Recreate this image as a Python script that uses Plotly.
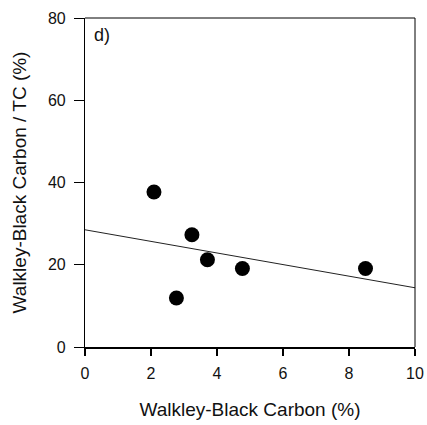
import plotly.graph_objects as go

# Data
wb_carbon = [2.09, 3.24, 3.71, 4.77, 8.50, 2.77]
wb_ratio = [37.7, 27.3, 21.2, 19.1, 19.1, 11.9]
trend_x = [0, 10]
trend_y = [28.5, 14.4]
x_ticks = [0, 2, 4, 6, 8, 10]
y_ticks = [0, 20, 40, 60, 80]

font_family = "Liberation Sans, Arial, sans-serif"

fig = go.Figure()
fig.add_trace(go.Scatter(x=trend_x, y=trend_y, mode="lines",
                         line=dict(color="#222222", width=1), hoverinfo="skip"))
fig.add_trace(go.Scatter(x=wb_carbon, y=wb_ratio, mode="markers",
                         marker=dict(color="black", size=15, line=dict(width=0))))

fig.update_layout(
    width=427, height=425,
    margin=dict(l=85, r=12, t=18, b=78, autoexpand=False),
    paper_bgcolor="white", plot_bgcolor="white",
    showlegend=False,
    font=dict(family=font_family, color="#111111"),
    xaxis=dict(range=[0, 10], tickvals=x_ticks, ticks="outside", ticklen=7,
               tickwidth=1.5, tickcolor="black", showline=True, linecolor="black",
               linewidth=2, showgrid=False, zeroline=False, automargin=False,
               tickfont=dict(size=16), ticklabelstandoff=4,
               title=dict(text="Walkley-Black Carbon (%)", font=dict(size=19), standoff=21)),
    yaxis=dict(range=[0, 80], tickvals=y_ticks, ticks="outside", ticklen=10,
               tickwidth=1.2, tickcolor="black", showline=True, linecolor="black",
               linewidth=1.2, showgrid=False, zeroline=False, automargin=False,
               tickfont=dict(size=16), ticklabelstandoff=5,
               title=dict(text="Walkley-Black Carbon / TC (%)", font=dict(size=19), standoff=16)),
    shapes=[
        dict(type="line", xref="paper", yref="paper", x0=0, x1=1, y0=1, y1=1,
             line=dict(color="black", width=1)),
        dict(type="line", xref="paper", yref="paper", x0=1, x1=1, y0=0, y1=1,
             line=dict(color="black", width=1)),
    ],
    annotations=[
        dict(text="d)", xref="paper", yref="paper", x=0.02, y=0.985,
             xanchor="left", yanchor="top", showarrow=False,
             font=dict(size=18, color="#111111")),
    ],
)

# remove the default page margin so the figure fills the window exactly
fig.write_html(
    "out.html",
    config={"displayModeBar": False},
    post_script="document.documentElement.style.overflow='hidden';"
                "document.body.style.margin='0px';"
                "document.body.style.overflow='hidden';",
)
